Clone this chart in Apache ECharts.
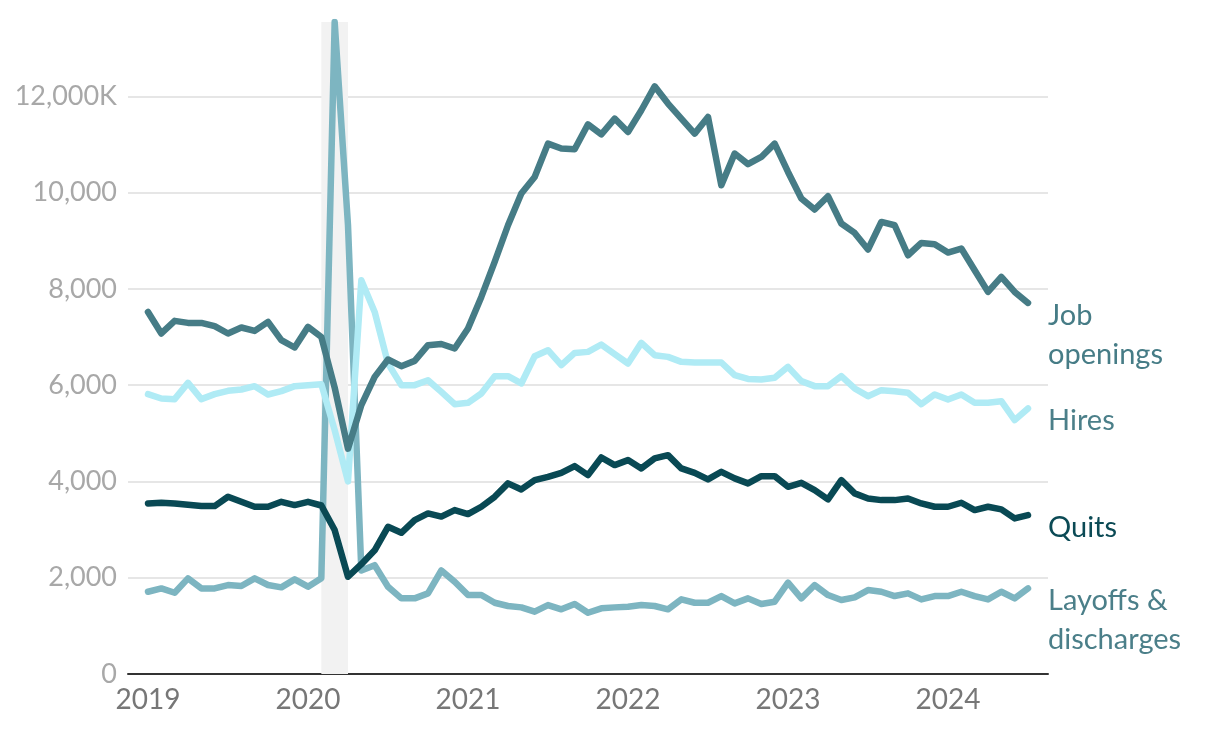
<!DOCTYPE html>
<html>
<head>
<meta charset="utf-8">
<script src="https://cdn.jsdelivr.net/npm/echarts@6/dist/echarts.min.js"></script>
<style>
html,body{margin:0;padding:0;background:#fff;}
#chart{width:1220px;height:736px;}
</style>
</head>
<body>
<div id="chart"></div>
<script>
// Monthly data, Jan 2019 – Jul 2024 (thousands)
const startYear = 2019;
const yearLabels = ['2019','2020','2021','2022','2023','2024'];

const jobOpenings = [
  7521, 7073, 7335, 7293, 7293, 7224, 7073, 7197, 7127, 7314, 6934, 6782,
  7210, 7000, 5950, 4680, 5585, 6172, 6533, 6394, 6504, 6830, 6855, 6761,
  7176, 7833, 8560, 9321, 9979, 10325, 11017, 10914, 10899, 11418, 11210, 11537,
  11259, 11709, 12207, 11848, 11537, 11224, 11570, 10152, 10810, 10590, 10740, 11017,
  10428, 9876, 9647, 9923, 9357, 9162, 8817, 9390, 9321, 8698, 8954, 8927,
  8754, 8837, 8387, 7937, 8248, 7937, 7708
];
const hires = [
  5813, 5723, 5709, 6048, 5709, 5813, 5882, 5910, 5979, 5806, 5875, 5979,
  6000, 6020, 5065, 4000, 8180, 7521, 6450, 6000, 6000, 6103, 5861, 5605,
  5633, 5827, 6186, 6186, 6035, 6601, 6726, 6415, 6670, 6691, 6844, 6643,
  6450, 6878, 6622, 6587, 6484, 6470, 6470, 6470, 6207, 6130, 6117, 6152,
  6380, 6083, 5979, 5979, 6186, 5931, 5771, 5896, 5875, 5840, 5605, 5806,
  5702, 5806, 5633, 5633, 5667, 5273, 5516
];
const quits = [
  3543, 3557, 3543, 3515, 3488, 3488, 3681, 3577, 3474, 3474, 3577, 3509,
  3577, 3500, 2990, 2020, 2280, 2570, 3058, 2933, 3197, 3336, 3270, 3405,
  3322, 3474, 3681, 3959, 3834, 4027, 4096, 4179, 4318, 4131, 4498, 4339,
  4443, 4270, 4478, 4546, 4270, 4179, 4042, 4200, 4063, 3959, 4110, 4110,
  3889, 3972, 3820, 3626, 4027, 3751, 3647, 3612, 3612, 3647, 3543, 3474,
  3474, 3557, 3405, 3474, 3419, 3232, 3301
];
const layoffs = [
  1709, 1778, 1688, 1986, 1778, 1778, 1848, 1827, 1986, 1848, 1800, 1966,
  1813, 1990, 13543, 9321, 2150, 2260, 1813, 1571, 1571, 1675, 2150, 1917,
  1640, 1640, 1480, 1412, 1384, 1294, 1432, 1343, 1453, 1273, 1364, 1384,
  1398, 1432, 1412, 1343, 1550, 1480, 1480, 1619, 1467, 1571, 1453, 1501,
  1896, 1571, 1848, 1640, 1536, 1592, 1744, 1709, 1619, 1675, 1550, 1619,
  1619, 1709, 1619, 1550, 1709, 1571, 1778
];
// Recession band: Feb 2020 – Apr 2020 (month indices from Jan 2019)
const recessionStart = 13;
const recessionEnd = 15;

const seriesNames = ['Job\nopenings', 'Hires', 'Quits', 'Layoffs &\ndischarges'];

const FONT = 'Lato, "Noto Sans", sans-serif';
const toPts = arr => arr.map((v, i) => [i, v]);

function lineSeries(name, data, color, labelColor, z) {
  return {
    name: name,
    type: 'line',
    data: toPts(data),
    showSymbol: false,
    symbol: 'none',
    z: z,
    lineStyle: { color: color, width: 6.5, cap: 'round', join: 'round' },
    endLabel: {
      show: true,
      formatter: name,
      color: labelColor,
      fontFamily: FONT,
      fontSize: 29,
      lineHeight: 39,
      align: 'left',
      verticalAlign: 'top',
      distance: 5,
      offset: [15, -7]
    },
    emphasis: { disabled: true }
  };
}

const chart = echarts.init(document.getElementById('chart'), null, { renderer: 'canvas' });
chart.setOption({
  animation: false,
  backgroundColor: '#ffffff',
  grid: { left: 128, right: 172, top: 22, bottom: 62, containLabel: false },
  xAxis: {
    type: 'value',
    min: -1.5,
    max: 67.5,
    axisLine: { show: true, lineStyle: { color: '#333333', width: 2 } },
    axisTick: { show: false },
    splitLine: { show: false },
    axisLabel: {
      customValues: [0, 12, 24, 36, 48, 60],
      formatter: v => yearLabels[Math.round(v / 12)] || '',
      color: '#777777',
      fontFamily: FONT,
      fontSize: 28,
      margin: 12
    }
  },
  yAxis: {
    type: 'value',
    min: 0,
    max: 'dataMax',
    interval: 2000,
    axisLine: { show: false },
    axisTick: { show: false },
    splitLine: { show: true, showMaxLine: false, lineStyle: { color: '#e6e6e6', width: 2 } },
    axisLabel: {
      showMaxLabel: false,
      formatter: v => {
        if (v % 2000 !== 0) return '';
        if (v === 12000) return '12,000K';
        return v.toLocaleString('en-US');
      },
      color: '#a8a8a8',
      fontFamily: FONT,
      fontSize: 27,
      margin: 11
    }
  },
  series: [
    {
      type: 'line',
      data: [[recessionStart, 0]],
      symbol: 'none',
      lineStyle: { opacity: 0 },
      z: 1,
      silent: true,
      markArea: {
        silent: true,
        itemStyle: { color: '#f2f2f2' },
        data: [[{ xAxis: recessionStart }, { xAxis: recessionEnd }]]
      }
    },
    lineSeries(seriesNames[3], layoffs, '#7db5c1', '#4b7f89', 3),
    lineSeries(seriesNames[1], hires, '#b0ebf5', '#4b7f89', 4),
    lineSeries(seriesNames[0], jobOpenings, '#467c86', '#467c86', 5),
    lineSeries(seriesNames[2], quits, '#094954', '#0b4a55', 6)
  ]
});
</script>
</body>
</html>
